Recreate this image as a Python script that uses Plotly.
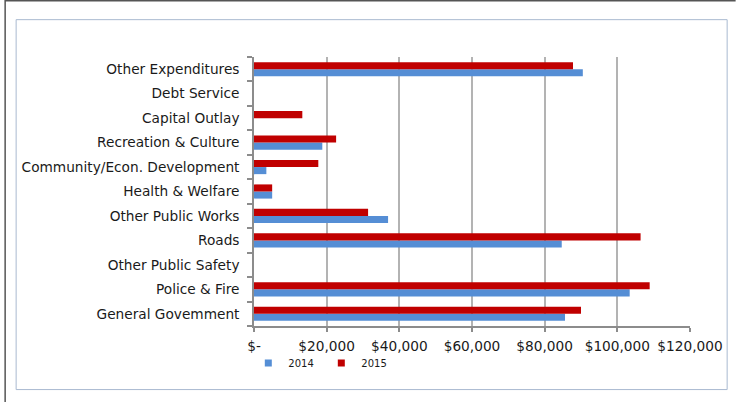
import plotly.graph_objects as go

categories = ["General Govemment", "Police & Fire", "Other Public Safety", "Roads",
              "Other Public Works", "Health & Welfare", "Community/Econ. Development",
              "Recreation & Culture", "Capital Outlay", "Debt Service", "Other Expenditures"]
values_2014 = [85600, 103400, 0, 84700, 36900, 5000, 3400, 18800, 0, 0, 90500]
values_2015 = [90000, 108900, 0, 106400, 31400, 5000, 17700, 22600, 13300, 0, 87800]
series_names = ["2014", "2015"]
series_colors = ["#558ED5", "#C00000"]
tick_vals = [0, 20000, 40000, 60000, 80000, 100000, 120000]
tick_text = ["$-", "$20,000", "$40,000", "$60,000", "$80,000", "$100,000", "$120,000"]

W_FIG, H_FIG = 736, 402
L, R, T, B = 253.7, 45.7, 57.3, 76
PW = W_FIG - L - R
PH = H_FIG - T - B

def px(x):
    return (x - L) / PW

def py(y):
    return (H_FIG - B - y) / PH

fig = go.Figure()
for name, vals, col in zip(series_names, [values_2014, values_2015], series_colors):
    fig.add_trace(go.Bar(y=categories, x=vals, name=name, orientation="h",
                         marker=dict(color=col, line=dict(width=0)),
                         showlegend=False, legendgroup=name))
for name, col in zip(series_names, series_colors):
    fig.add_trace(go.Scatter(x=[None], y=[None], mode="markers", name=name,
                             marker=dict(symbol="square", size=7, color=col),
                             legendgroup=name, showlegend=True))

fig.update_layout(
    width=W_FIG, height=H_FIG,
    margin=dict(l=L, r=R, t=T, b=B),
    paper_bgcolor="white", plot_bgcolor="white",
    barmode="group", bargap=0.42, bargroupgap=0,
    font=dict(family="DejaVu Sans", size=13.7, color="#1a1a1a"),
    legend=dict(orientation="h", x=px(248), y=py(363), xanchor="left", yanchor="middle",
                font=dict(size=10, color="#1a1a1a"), itemwidth=30, tracegroupgap=0,
                entrywidth=28, entrywidthmode="pixels",
                bgcolor="rgba(0,0,0,0)"),
    xaxis=dict(range=[0, 120000], tickvals=tick_vals, ticktext=tick_text,
               showgrid=True, gridcolor="#B3B3B3", gridwidth=1.5,
               showline=True, linecolor="#8C8C8C", linewidth=1.5,
               ticks="outside", ticklen=4, tickcolor="#8C8C8C", tickwidth=1.5,
               ticklabelstandoff=3,
               zeroline=False, fixedrange=True, tickfont=dict(size=13.7)),
    yaxis=dict(type="category", categoryorder="array", categoryarray=categories,
               showgrid=False, showline=True, linecolor="#8C8C8C", linewidth=1.5,
               ticks="outside", ticklen=5, tickcolor="#8C8C8C", tickwidth=1.5,
               tickson="boundaries", ticklabelstandoff=10, tickfont=dict(size=13.7),
               zeroline=False, range=[-0.5, 10.5], fixedrange=True),
    shapes=[
        dict(type="rect", xref="paper", yref="paper",
             x0=px(15.5), x1=px(727.5), y0=py(20), y1=py(389.5),
             line=dict(color="#A9B9D0", width=1), fillcolor="rgba(0,0,0,0)", layer="below"),
        dict(type="line", xref="paper", yref="paper",
             x0=px(4.5), x1=px(4.5), y0=py(0), y1=py(402),
             line=dict(color="#555555", width=1.5), layer="below"),
        dict(type="line", xref="paper", yref="paper",
             x0=px(4.5), x1=px(736), y0=py(1), y1=py(1),
             line=dict(color="#555555", width=1.5), layer="below"),
    ],
)

fig.write_html("out.html", config={"displayModeBar": False},
               post_script="document.body.style.margin='0';document.body.style.overflow='hidden';")
